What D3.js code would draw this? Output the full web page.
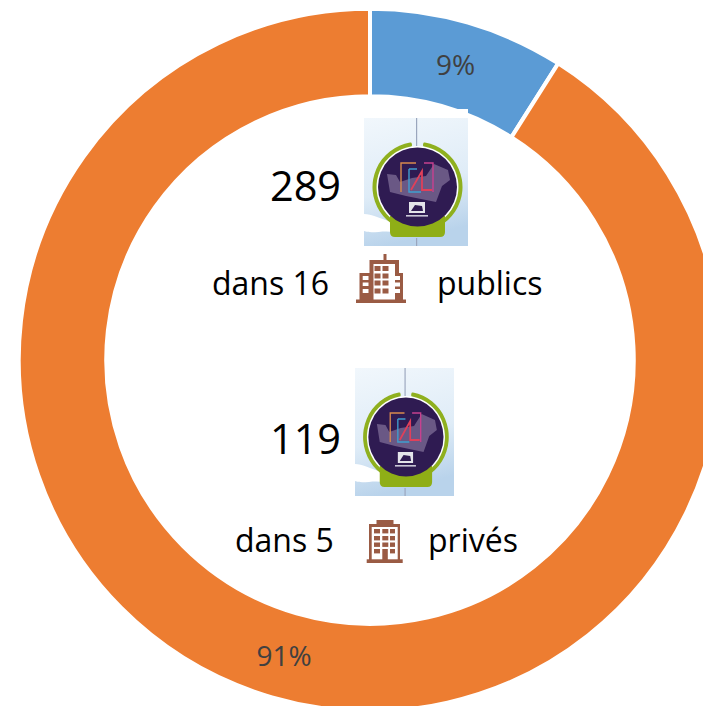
<!DOCTYPE html>
<html><head><meta charset="utf-8">
<script src="https://cdn.jsdelivr.net/npm/d3@7"></script>
<style>html,body{margin:0;padding:0;background:#fff;overflow:hidden}svg{display:block}text{font-family:"Open Sans",Lato,sans-serif}</style>
</head><body><svg id="c" width="703" height="706"></svg>
<script>
const categories = ["Part A", "Part B"];
const seriesValues = [9, 91];
const sliceColors = ["#5B9BD5", "#ED7D31"];
const sliceLabels = ["9%", "91%"];
const centerBig = ["289", "119"];
const centerRows = [["dans 16", "publics"], ["dans 5", "privés"]];

const svg = d3.select("#c");
const cx = 370, cy = 360, R = 351.25, r = 263.75;
const g = svg.append("g").attr("transform", `translate(${cx},${cy})`);
const pie = d3.pie().sort(null).value(d => d)(seriesValues);
const arc = d3.arc().innerRadius(r).outerRadius(R);
g.selectAll("path").data(pie).join("path")
  .attr("d", arc).attr("fill", (d, i) => sliceColors[i])
  .attr("stroke", "#fff").attr("stroke-width", 4);

// data labels
[[455.5, 65], [284, 656]].forEach((p, i) => {
  svg.append("text").attr("x", p[0]).attr("y", p[1]).attr("dy", "0.35em")
    .attr("text-anchor", "middle").attr("font-size", 28).attr("fill", "#404040").text(sliceLabels[i]);
});

// logo picture
const defs = svg.append("defs");
const bg = defs.append("linearGradient").attr("id", "bg").attr("x1", 0).attr("x2", 0.2).attr("y1", 0).attr("y2", 1);
bg.append("stop").attr("offset", 0).attr("stop-color", "#f1f7fc");
bg.append("stop").attr("offset", 0.6).attr("stop-color", "#dfecf7");
bg.append("stop").attr("offset", 1).attr("stop-color", "#b9d3eb");
const ringArc = d3.arc().innerRadius(41).outerRadius(45).startAngle(0.13).endAngle(2 * Math.PI - 0.13).cornerRadius(1.5);

function logo(x, y, w, h) {
  const k = svg.append("g").attr("transform", `translate(${x},${y}) scale(${w / 104},${h / 128})`);
  k.append("rect").attr("width", 104).attr("height", 128).attr("fill", "url(#bg)");
  k.append("path").attr("d", "M0,96 C8,96 14,100 28,104 L30,114 C18,112 8,116 0,113 Z").attr("fill", "#fff");
  k.append("rect").attr("x", 52).attr("width", 1.2).attr("height", 28).attr("fill", "#9aa6bd");
  k.append("rect").attr("x", 52).attr("y", 120).attr("width", 1.2).attr("height", 8).attr("fill", "#9aa6bd");
  k.append("circle").attr("cx", 53.5).attr("cy", 69).attr("r", 41).attr("fill", "#fff");
  k.append("path").attr("transform", "translate(53.5,69)").attr("d", ringArc()).attr("fill", "#8fb01e");
  k.append("path").attr("d", "M26,98 H81 V114 Q81,119 76,119 L31,119 Q26,119 26,114 Z").attr("fill", "#8fae16");
  k.append("circle").attr("cx", 53.5).attr("cy", 69).attr("r", 39.5).attr("fill", "#2f1b52");
  k.append("path").attr("d", "M23,56 L32,57 L36,64 L48,60 L62,58 L70,46 L84,52 L86,62 L78,68 L72,84 L52,80 L42,78 L26,74 Z").attr("fill", "#6a5885");
  k.append("path").attr("d", "M37,74 V45 H52").attr("fill", "none").attr("stroke", "#d98a4e").attr("stroke-width", 1.4);
  k.append("path").attr("d", "M45,51 H53 M45,51 V74 H57").attr("fill", "none").attr("stroke", "#3f9fd0").attr("stroke-width", 1.4);
  k.append("path").attr("d", "M47,72 L58,53 V72 H68").attr("fill", "none").attr("stroke", "#e0405a").attr("stroke-width", 1.8);
  k.append("path").attr("d", "M60,45 H69 V74").attr("fill", "none").attr("stroke", "#c8418f").attr("stroke-width", 1.4);
  k.append("rect").attr("x", 45).attr("y", 84).attr("width", 16).attr("height", 11).attr("fill", "#e4e4ea");
  k.append("path").attr("d", "M47,93 L51,87 L58,88 L59,93 Z").attr("fill", "#2f1b52");
  k.append("rect").attr("x", 42).attr("y", 97).attr("width", 22).attr("height", 1.6).attr("fill", "#c9c6d6");
}
// white patch above the first picture, over the blue slice
svg.append("rect").attr("x", 360).attr("y", 109).attr("width", 108).attr("height", 12).attr("fill", "#fff");
logo(364, 118, 104, 128);
logo(355, 368, 99, 128);

// big numbers
[[305.5, 186], [305.5, 439]].forEach((p, i) => {
  svg.append("text").attr("x", p[0]).attr("y", p[1]).attr("dy", "0.35em").attr("text-anchor", "middle")
    .attr("font-size", 41.5).attr("fill", "#000").text(centerBig[i]);
});

// text rows
[[[212, 284], [437, 284]], [[235, 541], [428, 541]]].forEach((row, i) => {
  row.forEach((p, j) => svg.append("text").attr("x", p[0]).attr("y", p[1]).attr("dy", "0.35em")
    .attr("font-size", 32).attr("fill", "#000").text(centerRows[i][j]));
});

// building icons
const brown = "#9A5B44";
function bigBuilding(x, y) {
  const k = svg.append("g").attr("transform", `translate(${x},${y})`).attr("fill", brown);
  k.append("rect").attr("x", 27.5).attr("y", 4).attr("width", 3).attr("height", 7);
  k.append("path").attr("fill-rule", "evenodd").attr("d", "M13.5,10 H43 V53 H13.5 Z M17.5,14 V50 H39 V14 Z");
  k.append("path").attr("fill-rule", "evenodd").attr("d", "M3.5,23 H14 V53 H3.5 Z M6.7,26 V30 H12.5 V26 Z M6.7,32.5 V36 H12.5 V32.5 Z M6.7,39 V43 H12.5 V39 Z");
  k.append("path").attr("fill-rule", "evenodd").attr("d", "M39,23 H47 V53 H39 Z");
  k.append("g").attr("fill", "#fff").selectAll("rect").data([26, 32.5, 39]).join("rect")
    .attr("x", 38.5).attr("y", d => d).attr("width", 5.5).attr("height", 4);
  k.append("rect").attr("x", 0).attr("y", 49.5).attr("width", 50).attr("height", 3.5);
  [16, 23.5, 30.5, 38.5].forEach(yy => [18.5, 26.5].forEach(xx => k.append("rect").attr("x", xx).attr("y", yy).attr("width", 6).attr("height", 5)));
}
function smallBuilding(x, y) {
  const k = svg.append("g").attr("transform", `translate(${x},${y})`).attr("fill", brown);
  k.append("rect").attr("x", 11.5).attr("y", 10).attr("width", 17).attr("height", 5);
  k.append("path").attr("fill-rule", "evenodd").attr("d", "M4,14 H35 V50 H4 Z M6.7,17 V50 H32.7 V17 Z");
  k.append("rect").attr("x", 1.7).attr("y", 49.3).attr("width", 36).attr("height", 3.7);
  [19, 26, 32.5, 39].forEach(yy => [9, 17.3, 25].forEach((xx, j) => {
    if (yy === 39 && j === 1) return;
    k.append("rect").attr("x", xx).attr("y", yy).attr("width", xx === 25 ? 5 : 6).attr("height", 4.4);
  }));
  k.append("rect").attr("x", 17.3).attr("y", 39).attr("width", 5.5).attr("height", 11);
}
bigBuilding(356, 250);
smallBuilding(365, 510);
</script></body></html>
